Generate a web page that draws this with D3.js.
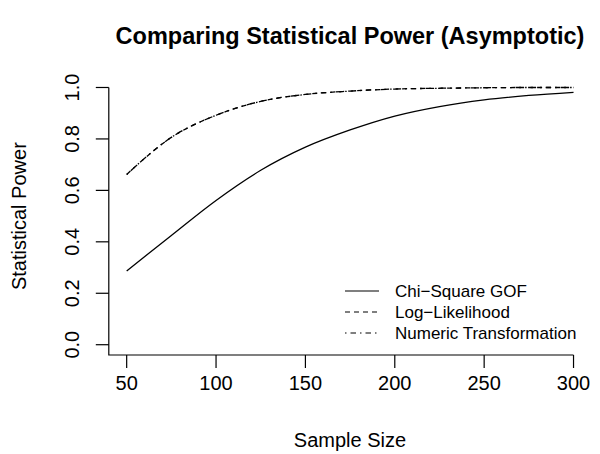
<!DOCTYPE html>
<html>
<head>
<meta charset="utf-8">
<script src="https://cdn.jsdelivr.net/npm/d3@7"></script>
<style>
	body { margin: 0; background: #fff; }
	svg { display: block; font-family: 'Liberation Sans', Arial, sans-serif; }
</style>
</head>
<body>
<svg id="chart" width="600" height="454"></svg>
<script>
const SAMPLE_SIZES = [50, 75, 100, 125, 150, 175, 200, 225, 250, 275, 300];
const CHI_SQUARE = [0.287, 0.425, 0.561, 0.678, 0.768, 0.835, 0.889, 0.926, 0.952, 0.969, 0.981];
const LOG_LIK = [0.662, 0.806, 0.892, 0.946, 0.973, 0.986, 0.994, 0.997, 0.999, 1.0, 1.0];
const NUMERIC = [0.662, 0.806, 0.892, 0.946, 0.973, 0.986, 0.994, 0.997, 0.999, 1.0, 1.0];
const X_TICKS = [50, 100, 150, 200, 250, 300];
const Y_TICKS = [0, 0.2, 0.4, 0.6, 0.8, 1.0];
const SERIES = [
	{ name: 'Chi\u2212Square GOF', values: CHI_SQUARE, dash: null },
	{ name: 'Log\u2212Likelihood', values: LOG_LIK, dash: '5,4' },
	{ name: 'Numeric Transformation', values: NUMERIC, dash: '1.5,4,5.5,4' }
];

const $svg = d3.select('#chart');

// plot region, R style 4% padding around the data range
const x = d3.scaleLinear().domain([40, 310]).range([108.8, 591.4]);
const y = d3.scaleLinear().domain([-0.04, 1.04]).range([355, 77.2]);
const TICK = 13;

// title
$svg.append('text')
	.attr('x', 350)
	.attr('y', 44)
	.attr('text-anchor', 'middle')
	.style('font-size', '23.5px')
	.style('font-weight', 'bold')
	.text('Comparing Statistical Power (Asymptotic)');

// axes as an L
const $axes = $svg.append('g').attr('stroke', '#000').attr('stroke-width', 1.2).attr('fill', 'none');
$axes.append('path')
	.attr('d', `M${x.range()[0]},${y(1)}V${y.range()[0]}H${x(300)}`);

$axes.selectAll('.xtick')
	.data(X_TICKS)
	.enter()
	.append('line')
	.attr('x1', d => x(d))
	.attr('x2', d => x(d))
	.attr('y1', y.range()[0])
	.attr('y2', y.range()[0] + TICK);

$axes.selectAll('.ytick')
	.data(Y_TICKS)
	.enter()
	.append('line')
	.attr('y1', d => y(d))
	.attr('y2', d => y(d))
	.attr('x1', x.range()[0])
	.attr('x2', x.range()[0] - TICK);

$svg.selectAll('.xlabel')
	.data(X_TICKS)
	.enter()
	.append('text')
	.attr('x', d => x(d))
	.attr('y', 390)
	.attr('text-anchor', 'middle')
	.style('font-size', '20px')
	.text(d => d);

$svg.selectAll('.ylabel')
	.data(Y_TICKS)
	.enter()
	.append('text')
	.attr('transform', d => `translate(79,${y(d)}) rotate(-90)`)
	.attr('text-anchor', 'middle')
	.style('font-size', '20px')
	.text(d => d.toFixed(1));

$svg.append('text')
	.attr('x', 350)
	.attr('y', 447)
	.attr('text-anchor', 'middle')
	.style('font-size', '20px')
	.text('Sample Size');

$svg.append('text')
	.attr('transform', `translate(26,${(y(-0.04) + y(1.04)) / 2}) rotate(-90)`)
	.attr('text-anchor', 'middle')
	.style('font-size', '20px')
	.text('Statistical Power');

// curves
const line = d3.line()
	.x((d, i) => x(SAMPLE_SIZES[i]))
	.y(d => y(d))
	.curve(d3.curveMonotoneX);

$svg.selectAll('.curve')
	.data(SERIES)
	.enter()
	.append('path')
	.attr('d', d => line(d.values))
	.attr('fill', 'none')
	.attr('stroke', '#000')
	.attr('stroke-width', 1.3)
	.attr('stroke-dasharray', d => d.dash);

// legend
const $legend = $svg.append('g').selectAll('g')
	.data(SERIES)
	.enter()
	.append('g')
	.attr('transform', (d, i) => `translate(0,${291 + i * 21})`);

$legend.append('line')
	.attr('x1', 345)
	.attr('x2', 379)
	.attr('stroke', '#000')
	.attr('stroke-width', 1.2)
	.attr('stroke-dasharray', d => d.dash);

$legend.append('text')
	.attr('x', 395)
	.attr('y', 6)
	.style('font-size', '17px')
	.text(d => d.name);
</script>
</body>
</html>
